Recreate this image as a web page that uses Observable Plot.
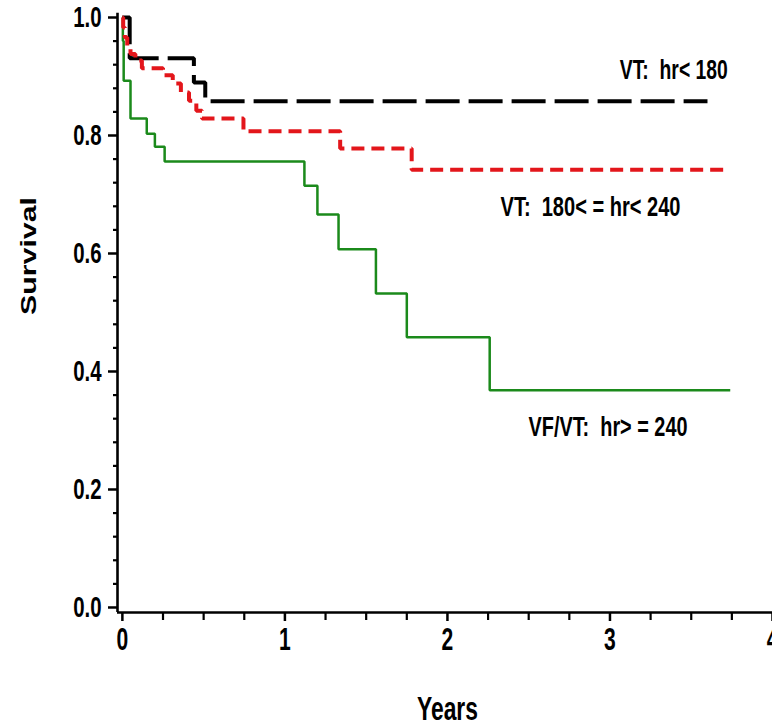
<!DOCTYPE html>
<html><head><meta charset="utf-8">
<script src="https://cdn.jsdelivr.net/npm/d3@7"></script>
<script src="https://cdn.jsdelivr.net/npm/@observablehq/plot@0.6"></script>
<style>
html,body{margin:0;padding:0;background:#fff;}
#chart svg{display:block;}
</style></head><body><div id="chart"></div>
<script>
// ---- data ----
const groups = ["VT:  hr< 180", "VT:  180< = hr< 240", "VF/VT:  hr> = 240"];

const blackTimes = [0, 0.045, 0.44, 0.51];
const blackSurv  = [1.0, 0.931, 0.890, 0.858];
const blackEnd   = 3.60;

const redTimes = [0, 0.005, 0.015, 0.03, 0.05, 0.08, 0.12, 0.25, 0.31, 0.36, 0.41, 0.455, 0.49, 0.745, 1.34, 1.78];
const redSurv  = [1.0, 0.983, 0.966, 0.949, 0.938, 0.927, 0.914, 0.902, 0.888, 0.873, 0.859, 0.842, 0.829, 0.807, 0.778, 0.742];
const redEnd   = 3.72;

const greenTimes = [0, 0.003, 0.008, 0.05, 0.15, 0.20, 0.26, 1.12, 1.20, 1.33, 1.56, 1.75, 2.26];
const greenSurv  = [1.0, 0.96, 0.893, 0.829, 0.803, 0.781, 0.756, 0.715, 0.666, 0.607, 0.532, 0.458, 0.368];
const greenEnd   = 3.74;

const xTicks = [0, 1, 2, 3, 4];
const xTickLabels = ["0", "1", "2", "3", "4"];
const xMinorTicks = [0.25, 0.5, 0.75, 1.25, 1.5, 1.75, 2.25, 2.5, 2.75, 3.25, 3.5, 3.75];
const yTicks = [0, 0.2, 0.4, 0.6, 0.8, 1.0];
const yTickLabels = ["0.0", "0.2", "0.4", "0.6", "0.8", "1.0"];
const yMinorTicks = [0.04,0.08,0.12,0.16,0.24,0.28,0.32,0.36,0.44,0.48,0.52,0.56,0.64,0.68,0.72,0.76,0.84,0.88,0.92,0.96];
const xLabel = "Years";
const yLabel = "Survival";

// ---- build step series ----
function steps(times, surv, end, group) {
  const pts = times.map((t, i) => ({t, s: surv[i], group}));
  pts.push({t: end, s: surv[surv.length - 1], group});
  return pts;
}
const black = steps(blackTimes, blackSurv, blackEnd, groups[0]);
const red = steps(redTimes, redSurv, redEnd, groups[1]);
const green = steps(greenTimes, greenSurv, greenEnd, groups[2]);

// label anchors (data units)
const annot = [
  {text: groups[0], x: 3.725, y: 0.911},
  {text: groups[1], x: 3.434, y: 0.678},
  {text: groups[2], x: 3.477, y: 0.305}
];
// rendered widths (px) of the condensed type in the reference
const textWidths = new Map([[groups[0], 108], [groups[1], 180], [groups[2], 159], [xLabel, 61], [yLabel, 118]]);

const font = "'Liberation Sans', Arimo, Arial, sans-serif";
const xMin = -0.03, xMax = 4.0, yMin = -0.0085, yMax = 1.0;

const chart = Plot.plot({
  width: 772,
  height: 726,
  marginLeft: 117,
  marginRight: 0,
  marginTop: 17,
  marginBottom: 114,
  style: {background: "#fff", color: "#000", overflow: "visible"},
  x: {domain: [xMin, xMax], axis: null},
  y: {domain: [yMin, yMax], axis: null},
  marks: [
    // axes
    Plot.axisY(yMinorTicks, {tickSize: 4, tickFormat: () => "", strokeWidth: 2.2}),
    Plot.axisY(yTicks, {tickSize: 9, tickPadding: 7, tickFormat: (d) => yTickLabels[yTicks.indexOf(d)],
      fontSize: 30, fontWeight: "bold", fontFamily: font, strokeWidth: 2.5, label: null}),
    Plot.axisX(xMinorTicks, {tickSize: 8, tickFormat: () => "", strokeWidth: 2.2}),
    Plot.axisX(xTicks, {tickSize: 9, tickPadding: 6, tickFormat: (d) => xTickLabels[xTicks.indexOf(d)],
      fontSize: 31, fontWeight: "bold", fontFamily: font, strokeWidth: 2.5, label: null}),
    Plot.ruleX([xMin], {y1: yMin, y2: yMax + 0.007, strokeWidth: 2.6}),
    Plot.ruleY([yMin], {x1: xMin, x2: xMax, strokeWidth: 2.6}),
    // curves
    Plot.line(green, {x: "t", y: "s", curve: "step-after", stroke: "#1b8a1b", strokeWidth: 2.5,
      strokeLinecap: "butt", strokeLinejoin: "miter"}),
    Plot.line(black, {x: "t", y: "s", curve: "step-after", stroke: "#000", strokeWidth: 4,
      strokeDasharray: "34,9", strokeLinecap: "butt", strokeLinejoin: "miter"}),
    Plot.line(red, {x: "t", y: "s", curve: "step-after", stroke: "#e3161b", strokeWidth: 4,
      strokeDasharray: "13,7", strokeLinecap: "butt", strokeLinejoin: "miter"}),
    // curve labels
    Plot.text(annot, {x: "x", y: "y", text: "text", textAnchor: "end", lineAnchor: "middle",
      fontSize: 27, fontWeight: "bold", fontFamily: font, fill: "#000"}),
    // axis titles
    Plot.text([xLabel], {x: [2], frameAnchor: "bottom", dy: 97, lineAnchor: "middle",
      fontSize: 33, fontWeight: "bold", fontFamily: font, fill: "#000"}),
    Plot.text([yLabel], {frameAnchor: "left", dx: -89, rotate: -90, lineAnchor: "middle",
      fontSize: 22, fontWeight: "bold", fontFamily: font, fill: "#000"})
  ]
});

document.getElementById("chart").appendChild(chart);

// the reference type is a condensed face: narrow each text along its baseline
d3.select(chart).selectAll("text").each(function() {
  const txt = this.textContent;
  if (!txt) return;
  const g = this.closest("g[aria-label]");
  const role = g ? g.getAttribute("aria-label") : "";
  const len = this.getComputedTextLength();
  let target = null;
  if (textWidths.has(txt)) target = textWidths.get(txt);
  else if (role.startsWith("y-axis")) target = len * 0.68;
  else if (role.startsWith("x-axis")) target = len * 0.68;
  if (target) d3.select(this).attr("textLength", target).attr("lengthAdjust", "spacingAndGlyphs");
});
</script>
</body></html>
